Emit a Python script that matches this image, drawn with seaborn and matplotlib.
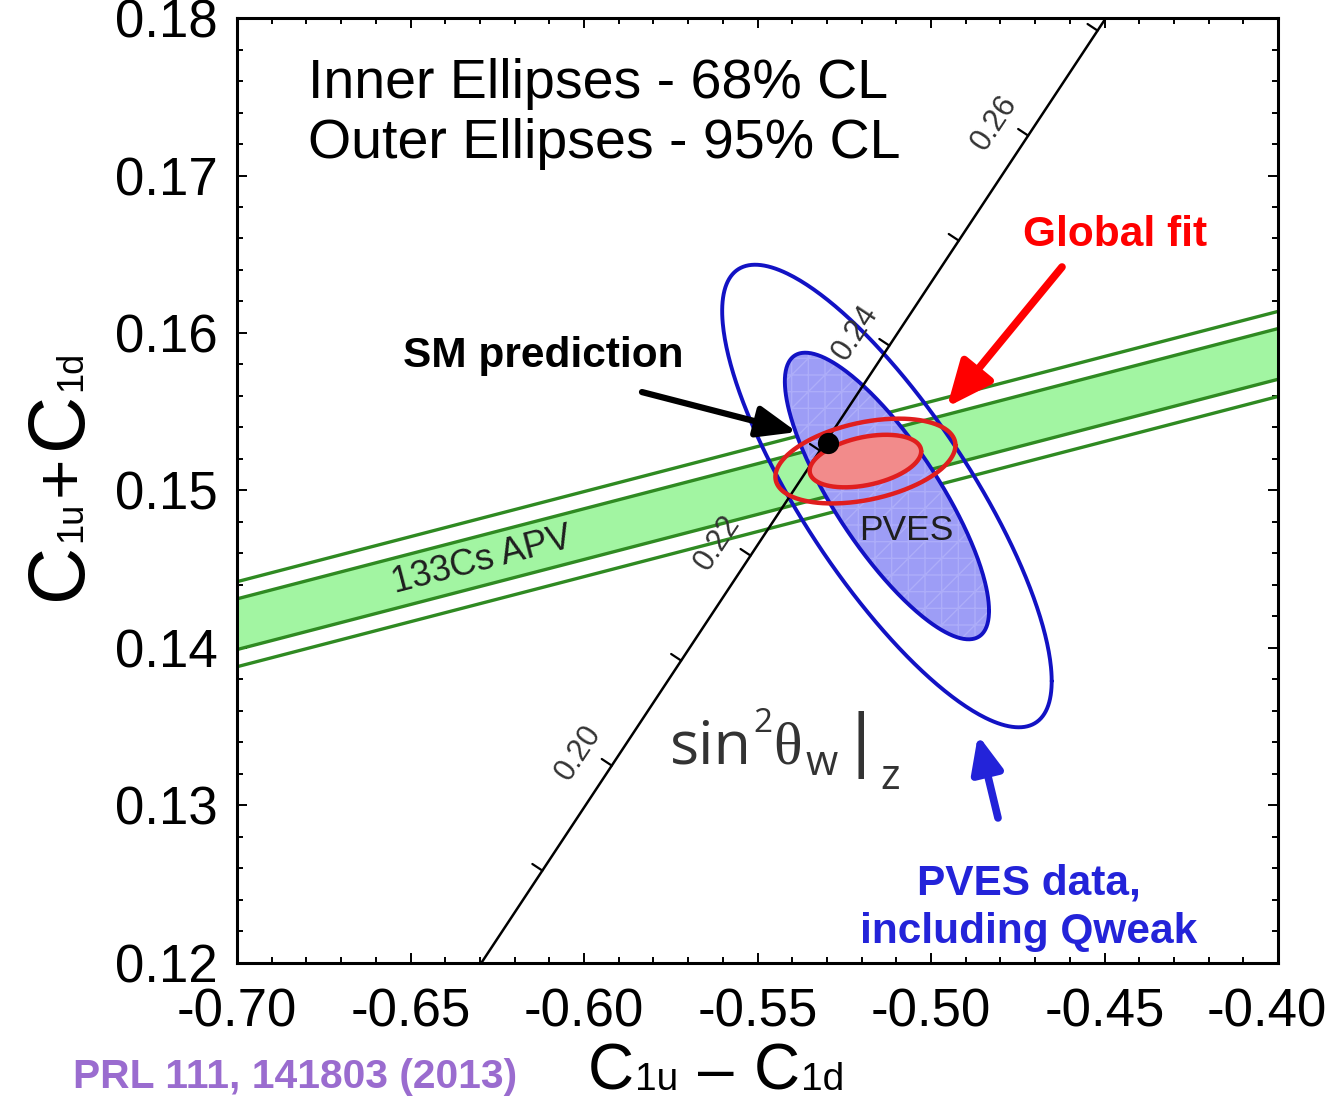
import numpy as np
import matplotlib
matplotlib.use("Agg")
import matplotlib.pyplot as plt
from matplotlib.ticker import MultipleLocator, FormatStrFormatter
from matplotlib.transforms import IdentityTransform
import seaborn as sns
import pandas as pd

# ---- axis ranges -------------------------------------------------------
x_range = [-0.70, -0.40]
y_range = [0.12, 0.18]

# ---- sin^2(theta_W) line: C1u-C1d = off_diff + 2*s2 ; C1u+C1d = off_sum + 2/3*s2
line_off_diff = -0.992
line_off_sum = -0.0008
sin2_ticks = [0.19, 0.20, 0.21, 0.22, 0.23, 0.24, 0.25, 0.26, 0.27]
sin2_labels = [0.20, 0.22, 0.24, 0.26]

# ---- 133Cs APV band (centre line at the two x edges, half widths) -------
apv_x = [-0.70, -0.40]
apv_center = [0.14151, 0.15867]
apv_half_68 = 0.00161
apv_half_95 = 0.00270

# ---- PVES fit (C1u-C1d, C1u+C1d) ----------------------------------------
pves_center = [-0.5127, 0.14965]
pves_sigma = [0.0194, 0.0060]
pves_rho = -0.80

# ---- global fit ---------------------------------------------------------
glob_center = [-0.5189, 0.15187]
glob_sigma = [0.0106, 0.0011]
glob_rho = 0.37

# ---- Standard Model prediction -----------------------------------------
sm_point = [-0.5297, 0.1530]

# delta chi^2 for 2 parameters
dchi2_68 = 2.30
dchi2_95 = 5.99


def ellipse(center, sigma, rho, dchi2, n=400):
    sx, sy = sigma
    cov = np.array([[sx**2, rho * sx * sy], [rho * sx * sy, sy**2]])
    L = np.linalg.cholesky(cov)
    t = np.linspace(0, 2 * np.pi, n)
    circ = np.vstack([np.cos(t), np.sin(t)]) * np.sqrt(dchi2)
    pts = L @ circ + np.array(center)[:, None]
    return pts[0], pts[1]


sns.set_theme(style="ticks")
plt.rcParams["font.family"] = ["Liberation Sans", "DejaVu Sans"]
plt.rcParams["axes.unicode_minus"] = False

fig = plt.figure(figsize=(13.32, 11.03), dpi=100)
ax = fig.add_axes([0.17793, 0.12693, 0.78153, 0.85675])
ax.set_xlim(*x_range)
ax.set_ylim(*y_range)
fig.patch.set_facecolor("white")
ax.set_facecolor("white")
renderer = fig.canvas.get_renderer()


def place_pieces(pieces, start, rotation=0.0, color="black"):
    """Write a sequence of text pieces along one baseline (display pixels)."""
    ang = np.radians(rotation)
    d = np.array([np.cos(ang), np.sin(ang)])
    nrm = np.array([-np.sin(ang), np.cos(ang)])
    pos = np.array(start, float)
    for txt, size, rise, gap, family in pieces:
        pos = pos + d * gap
        p = pos + nrm * rise
        fig.text(p[0], p[1], txt, transform=IdentityTransform(), fontsize=size,
                 rotation=rotation, rotation_mode="anchor", ha="left",
                 va="baseline", color=color, family=family)
        tmp = fig.text(0, 0, txt, fontsize=size, family=family)
        w = tmp.get_window_extent(renderer).width
        tmp.remove()
        pos = pos + d * w


# ---- APV band ----------------------------------------------------------
bx = np.array(apv_x)
bc = np.array(apv_center)
ax.fill_between(bx, bc - apv_half_68, bc + apv_half_68, color="#a2f5a2", lw=0, zorder=1)
band_green = "#2f8a22"
for off in (-apv_half_95, -apv_half_68, apv_half_68, apv_half_95):
    sns.lineplot(x=bx, y=bc + off, ax=ax, color=band_green, lw=2.4, zorder=2,
                 estimator=None, sort=False)

# ---- PVES ellipses -----------------------------------------------------
blue = "#1212c4"
ex, ey = ellipse(pves_center, pves_sigma, pves_rho, dchi2_95)
ax.plot(ex, ey, color=blue, lw=2.8, zorder=3)
ex, ey = ellipse(pves_center, pves_sigma, pves_rho, dchi2_68)
ax.fill(ex, ey, facecolor="#9d9df6", edgecolor="none", zorder=3)
ax.fill(ex, ey, facecolor="none", edgecolor="#adadf9", hatch="+/", lw=0, zorder=3)
ax.plot(ex, ey, color=blue, lw=2.8, zorder=4)

# ---- sin^2 theta_W line ------------------------------------------------
s_lo = (y_range[0] - line_off_sum) * 1.5
s_hi = (y_range[1] - line_off_sum) * 1.5
s_end = np.array([s_lo, s_hi])
line_df = pd.DataFrame({"diff": line_off_diff + 2 * s_end,
                        "sum": line_off_sum + 2.0 / 3.0 * s_end})
sns.lineplot(data=line_df, x="diff", y="sum", ax=ax, color="black", lw=1.8,
             zorder=5, estimator=None, sort=False)

p0 = ax.transData.transform((line_df["diff"][0], line_df["sum"][0]))
p1 = ax.transData.transform((line_df["diff"][1], line_df["sum"][1]))
direc = (p1 - p0) / np.linalg.norm(p1 - p0)
line_angle = np.degrees(np.arctan2(direc[1], direc[0]))
perp = np.array([-direc[1], direc[0]])  # towards upper left
inv = ax.transData.inverted()
for s2 in sin2_ticks:
    base = np.array([line_off_diff + 2 * s2, line_off_sum + 2.0 / 3.0 * s2])
    bp = ax.transData.transform(base)
    tp = inv.transform(bp + perp * 12)
    ax.plot([base[0], tp[0]], [base[1], tp[1]], color="black", lw=1.6, zorder=5)
    if any(abs(s2 - l) < 1e-9 for l in sin2_labels):
        lp = inv.transform(bp + perp * 35 - direc * 8)
        ax.text(lp[0], lp[1], f"{s2:.2f}", rotation=line_angle, ha="center",
                va="center", fontsize=22, color="#333333", zorder=5,
                rotation_mode="anchor")

# ---- global fit ellipses -----------------------------------------------
red = "#e01e1e"
gx, gy = ellipse(glob_center, glob_sigma, glob_rho, dchi2_68)
ax.fill(gx, gy, facecolor="#f28b8b", edgecolor="none", zorder=6)
ax.plot(gx, gy, color=red, lw=3.2, zorder=6)
gx, gy = ellipse(glob_center, glob_sigma, glob_rho, dchi2_95)
ax.plot(gx, gy, color=red, lw=3.2, zorder=6)

# ---- SM point ----------------------------------------------------------
sns.scatterplot(x=[sm_point[0]], y=[sm_point[1]], ax=ax, color="black", s=200,
                edgecolor="black", zorder=8)

# ---- band label --------------------------------------------------------
tx = -0.6294
ty = np.interp(tx, bx, bc)
a0 = ax.transData.transform((bx[0], bc[0]))
a1 = ax.transData.transform((bx[1], bc[1]))
band_angle = np.degrees(np.arctan2(a1[1] - a0[1], a1[0] - a0[0]))
ax.text(tx, ty, "133Cs APV", rotation=band_angle, rotation_mode="anchor",
        ha="center", va="center", fontsize=26, color="#1e1e1e", zorder=3)

ax.text(-0.5072, 0.14749, "PVES", ha="center", va="center", fontsize=25.5,
        color="#1e1e1e", zorder=5)

# sin^2 theta_W |_Z label
sans = ["Open Sans", "DejaVu Sans"]
place_pieces([("sin", 44, 0, 0, sans),
              ("2", 24, 31, 1, sans),
              ("\u03b8", 43, 0, 1, ["Liberation Serif", "DejaVu Serif"]),
              ("w", 30, -12, 4, sans),
              ("|", 48, 0, 12, ["DejaVu Sans"]),
              ("z", 30, -26, 8, sans)],
             start=(670, 1103 - 763), color="#333333")

# ---- legend text -------------------------------------------------------
ax.text(-0.6796, 0.17492, "Inner Ellipses - 68% CL", fontsize=40, ha="left",
        va="baseline", color="black")
ax.text(-0.6796, 0.17111, "Outer Ellipses - 95% CL", fontsize=40, ha="left",
        va="baseline", color="black")

# ---- annotations with arrows ------------------------------------------
ax.text(-0.65216, 0.15784, "SM prediction", fontsize=30.5, fontweight="bold",
        ha="left", va="baseline", color="black")
ax.annotate("", xy=(-0.53862, 0.15371), xytext=(-0.58329, 0.15625),
            arrowprops=dict(arrowstyle="-|>,head_length=0.48,head_width=0.19",
                            lw=4.5, color="black", mutation_scale=50,
                            shrinkA=0, shrinkB=0), zorder=9)

ax.text(-0.47349, 0.16552, "Global fit", fontsize=30.5, fontweight="bold",
        ha="left", va="baseline", color="#ff0000")
ax.annotate("", xy=(-0.49539, 0.15530), xytext=(-0.46225, 0.16419),
            arrowprops=dict(arrowstyle="-|>,head_length=0.5,head_width=0.22",
                            lw=5.5, color="#ff0000", mutation_scale=55,
                            shrinkA=0, shrinkB=0), zorder=9)

ax.text(-0.47176, 0.12432, "PVES data,", fontsize=30.5, fontweight="bold",
        ha="center", va="baseline", color="#2323d9")
ax.text(-0.47176, 0.12127, "including Qweak", fontsize=30.5, fontweight="bold",
        ha="center", va="baseline", color="#2323d9")
ax.annotate("", xy=(-0.48646, 0.13448), xytext=(-0.48069, 0.12921),
            arrowprops=dict(arrowstyle="-|>,head_length=0.44,head_width=0.19",
                            lw=5.5, color="#2323d9", mutation_scale=50,
                            shrinkA=0, shrinkB=0), zorder=9)

# ---- axes styling ------------------------------------------------------
ax.xaxis.set_major_locator(MultipleLocator(0.05))
ax.xaxis.set_minor_locator(MultipleLocator(0.01))
ax.yaxis.set_major_locator(MultipleLocator(0.01))
ax.yaxis.set_minor_locator(MultipleLocator(0.002))
ax.yaxis.set_major_formatter(FormatStrFormatter("%.2f"))
ax.tick_params(which="both", direction="in", top=True, right=True,
               color="black", width=1.4)
ax.tick_params(which="major", length=7, labelsize=38, labelcolor="black")
ax.tick_params(axis="x", labelbottom=False)
ax.tick_params(axis="y", which="major", pad=14)
ax.tick_params(which="minor", length=4)
for sp in ax.spines.values():
    sp.set_color("black")
    sp.set_linewidth(2.2)
ax.set_xlabel("")
ax.set_ylabel("")

# x tick labels; the right-most one is nudged so it stays on the canvas
xt = [v for v in ax.get_xticks() if x_range[0] - 1e-9 <= v <= x_range[1] + 1e-9]
for v in xt:
    dx = -8 if abs(v - x_range[1]) < 1e-9 else 0
    ax.annotate(f"{v:.2f}", xy=(v, 0), xycoords=("data", "axes fraction"),
                xytext=(dx, -18), textcoords="offset points", ha="center",
                va="top", fontsize=38, color="black", annotation_clip=False)

# axis titles built from pieces so the subscripts sit small on the baseline
place_pieces([("C", 57, 0, 0, None),
              ("1u", 26, 0, 1, None),
              ("+", 50, 0, 6, None),
              ("C", 57, 0, 6, None),
              ("1d", 26, 0, 1, None)],
             start=(81, 1103 - 600), rotation=90)
place_pieces([("C", 46, 0, 0, None),
              ("1u", 28, 0, 1, None),
              ("\u2013", 46, 0, 20, None),
              ("C", 46, 0, 20, None),
              ("1d", 28, 0, 1, None)],
             start=(588, 1103 - 1090))

fig.text(0.0548, 0.0236, "PRL 111, 141803 (2013)", fontsize=29.3,
         fontweight="bold", ha="left", va="center", color="#9a6ccf")

fig.savefig("out.png", dpi=100)
